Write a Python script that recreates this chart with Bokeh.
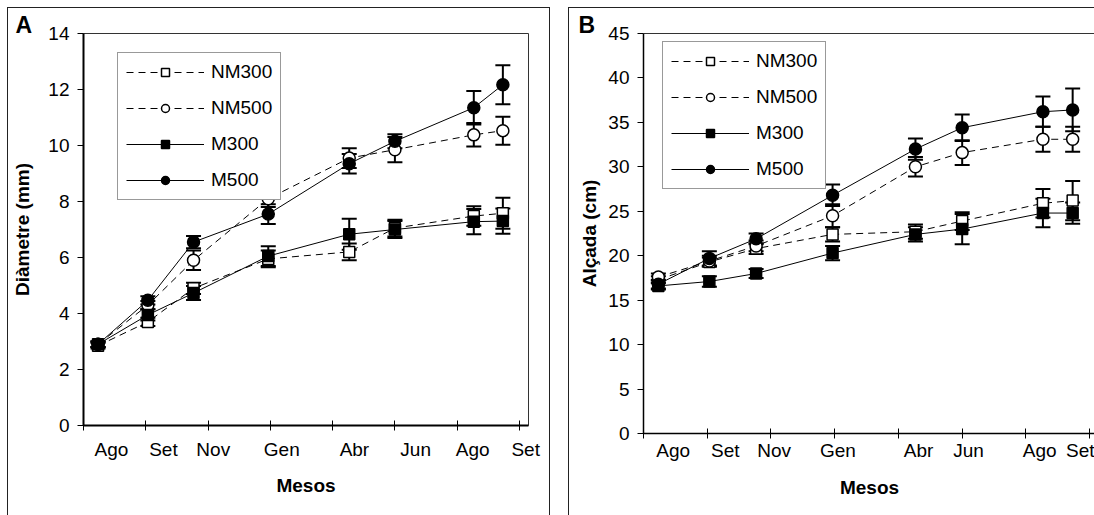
from bokeh.plotting import figure
from bokeh.models import (ColumnDataSource, Whisker, TeeHead, FixedTicker, Legend,
                          LegendItem, Range1d, LinearAxis, Title)
from bokeh.layouts import row
from bokeh.embed import file_html
from bokeh.resources import INLINE

# ---------------- data ----------------
days = [14, 62, 106, 178, 256, 300, 376, 404]          # sampling day
month_labels = ["Ago", "Set", "Nov", "Gen", "Abr", "Jun", "Ago", "Set"]
series_names = ["NM300", "NM500", "M300", "M500"]

# Panel A: diameter (mm)
diam_NM300 = [2.85, 3.70, 4.90, 5.95, 6.20, 7.05, 7.48, 7.58]
diam_NM500 = [2.90, 4.30, 5.90, 8.10, 9.55, 9.85, 10.38, 10.53]
diam_M300 = [2.90, 3.95, 4.73, 6.05, 6.83, 7.00, 7.28, 7.30]
diam_M500 = [2.90, 4.47, 6.55, 7.55, 9.35, 10.15, 11.35, 12.17]
diam_NM300_err = [0.10, 0.15, 0.20, 0.30, 0.30, 0.30, 0.35, 0.55]
diam_NM500_err = [0.10, 0.15, 0.35, 0.30, 0.35, 0.45, 0.42, 0.50]
diam_M300_err = [0.10, 0.20, 0.25, 0.35, 0.55, 0.30, 0.45, 0.45]
diam_M500_err = [0.10, 0.15, 0.22, 0.35, 0.35, 0.25, 0.60, 0.70]

# Panel B: height (cm)
alc_NM300 = [17.3, 19.3, 20.8, 22.4, 22.7, 23.9, 25.9, 26.2]
alc_NM500 = [17.6, 19.4, 21.1, 24.5, 30.0, 31.6, 33.1, 33.1]
alc_M300 = [16.6, 17.1, 18.0, 20.3, 22.4, 23.0, 24.8, 24.8]
alc_M500 = [16.8, 19.7, 21.9, 26.8, 32.0, 34.4, 36.2, 36.4]
alc_NM300_err = [0.4, 0.5, 0.6, 0.8, 0.8, 1.0, 1.6, 2.2]
alc_NM500_err = [0.4, 0.6, 0.6, 1.3, 1.1, 1.4, 1.4, 1.4]
alc_M300_err = [0.4, 0.6, 0.5, 0.8, 0.8, 1.7, 1.6, 1.2]
alc_M500_err = [0.5, 0.8, 0.6, 1.2, 1.2, 1.5, 1.7, 2.4]

yticks_A = [0, 2, 4, 6, 8, 10, 12, 14]
yticks_B = [0, 5, 10, 15, 20, 25, 30, 35, 40, 45]
month_ticks = [0, 60, 120, 180, 240, 300, 360, 420]

# label positions (layout) for the month names
label_pos_A = [27, 77, 125, 191, 261, 320, 375, 426]
label_pos_B = [28, 77, 123, 183, 259, 306, 373, 415]

FONT = "Liberation Sans"
SER_STYLE = {
    "NM300": dict(dash="7 5", marker="square", fill="white", size=11),
    "NM500": dict(dash="7 5", marker="circle", fill="white", size=12),
    "M300": dict(dash="solid", marker="square", fill="black", size=11),
    "M500": dict(dash="solid", marker="circle", fill="black", size=12),
}


def build(values, errors, ylabel, letter, yticks, ymax, xmax, label_pos, cfg):
    title = Title(text=letter, align="left", offset=cfg["letoff"], standoff=cfg["letstand"],
                  text_font=FONT, text_font_size="23px", text_font_style="bold",
                  text_color="black")
    p = figure(frame_width=cfg["fw"], frame_height=cfg["fh"],
               min_border_left=cfg["ml"], min_border_right=cfg["mr"],
               min_border_top=cfg["mt"], min_border_bottom=cfg["mb"],
               x_range=Range1d(0, xmax), y_range=Range1d(0, ymax),
               output_backend="svg", toolbar_location=None, tools="",
               title=title, styles=cfg["styles"])
    p.margin = cfg["margin"]
    p.xgrid.visible = False
    p.ygrid.visible = False
    p.background_fill_color = "white"
    p.border_fill_color = "white"

    # x axis (below)
    xa = p.below[0]
    xa.ticker = FixedTicker(ticks=label_pos, minor_ticks=month_ticks)
    xa.major_label_overrides = {pos: lab for pos, lab in zip(label_pos, month_labels)}
    xa.major_tick_line_color = None
    xa.major_tick_out = 5
    xa.major_tick_in = 0
    xa.minor_tick_line_color = "black"
    xa.minor_tick_in = 5
    xa.minor_tick_out = 5
    xa.axis_line_width = cfg["axw"]
    xa.major_label_text_font = FONT
    xa.major_label_text_font_size = "19px"
    xa.major_label_text_color = "black"
    xa.major_label_standoff = cfg["xstand"]
    xa.axis_label = "Mesos"
    xa.axis_label_text_font = FONT
    xa.axis_label_text_font_style = "bold"
    xa.axis_label_text_font_size = "19px"
    xa.axis_label_text_color = "black"
    xa.axis_label_standoff = cfg["xlstand"]

    ya = p.left[0]
    ya.ticker = FixedTicker(ticks=yticks)
    ya.minor_tick_line_color = None
    ya.major_tick_out = 6
    ya.major_tick_in = 0
    ya.axis_line_width = cfg["axw"]
    ya.major_label_text_font = FONT
    ya.major_label_text_font_size = "19px"
    ya.major_label_text_color = "black"
    ya.major_label_standoff = 8
    ya.axis_label = ylabel
    ya.axis_label_text_font = FONT
    ya.axis_label_text_font_style = "bold"
    ya.axis_label_text_font_size = "19px"
    ya.axis_label_text_color = "black"
    ya.axis_label_standoff = cfg["ylstand"]

    if cfg["outline"]:
        p.outline_line_color = "#333333"
        p.outline_line_width = 1
    else:
        p.outline_line_color = None
        top_ax = LinearAxis(ticker=FixedTicker(ticks=[]), major_label_text_font_size="0px",
                            axis_line_color="#333333", axis_line_width=1,
                            major_tick_line_color=None, minor_tick_line_color=None,
                            major_label_standoff=0, major_tick_out=0, major_tick_in=0)
        p.add_layout(top_ax, "above")

    # error bars first
    for name in series_names:
        v, e = values[name], errors[name]
        src = ColumnDataSource(dict(x=days, up=[a + b for a, b in zip(v, e)],
                                    lo=[a - b for a, b in zip(v, e)]))
        w = Whisker(base="x", upper="up", lower="lo", source=src, dimension="height",
                    line_width=2, line_color="black", level="underlay",
                    upper_head=TeeHead(size=15, line_width=2, line_color="black"),
                    lower_head=TeeHead(size=15, line_width=2, line_color="black"))
        p.add_layout(w)

    items = []
    for name in series_names:
        st = SER_STYLE[name]
        src = ColumnDataSource(dict(x=days, y=values[name]))
        lr = p.line("x", "y", source=src, line_color="black", line_width=1,
                    line_dash=st["dash"])
        sr = p.scatter("x", "y", source=src, marker=st["marker"], size=st["size"],
                       fill_color=st["fill"], line_color="black", line_width=1.5)
        items.append(LegendItem(label=name, renderers=[lr, sr]))

    leg = Legend(items=items, location=cfg["legloc"], glyph_width=78, glyph_height=20,
                 label_standoff=7, spacing=14, padding=8, margin=0,
                 label_text_font=FONT, label_text_font_size="19px",
                 label_text_color="black",
                 border_line_color="#333333", border_line_width=1,
                 background_fill_color="white", background_fill_alpha=1)
    p.add_layout(leg)
    return p


vals_A = dict(NM300=diam_NM300, NM500=diam_NM500, M300=diam_M300, M500=diam_M500)
errs_A = dict(NM300=diam_NM300_err, NM500=diam_NM500_err, M300=diam_M300_err, M500=diam_M500_err)
vals_B = dict(NM300=alc_NM300, NM500=alc_NM500, M300=alc_M300, M500=alc_M500)
errs_B = dict(NM300=alc_NM300_err, NM500=alc_NM500_err, M300=alc_M300_err, M500=alc_M500_err)

cfgA = dict(fw=443, fh=391, ml=75, mr=23, mt=25, mb=91, outline=True, axw=2,
            xstand=8, xlstand=12, ylstand=12, legloc=(34, 225),
            letoff=-68, letstand=-8, margin=(7, 0, 0, 7),
            styles={"border-top": "1px solid #222", "border-left": "1px solid #222",
                    "border-right": "1px solid #222"})
cfgB = dict(fw=451, fh=399, ml=74, mr=0, mt=25, mb=83, outline=False, axw=1.5,
            xstand=1, xlstand=13, ylstand=5, legloc=(19, 244),
            letoff=-65, letstand=-8, margin=(7, 0, 0, 18),
            styles={"border-top": "1px solid #222", "border-left": "1px solid #222"})

pA = build(vals_A, errs_A, "Diàmetre (mm)", "A", yticks_A, 14, 428.7, label_pos_A, cfgA)
pB = build(vals_B, errs_B, "Alçada (cm)", "B", yticks_B, 45, 425.5, label_pos_B, cfgB)

layout = row(pA, pB)
open("out.html", "w").write(file_html(layout, INLINE))
